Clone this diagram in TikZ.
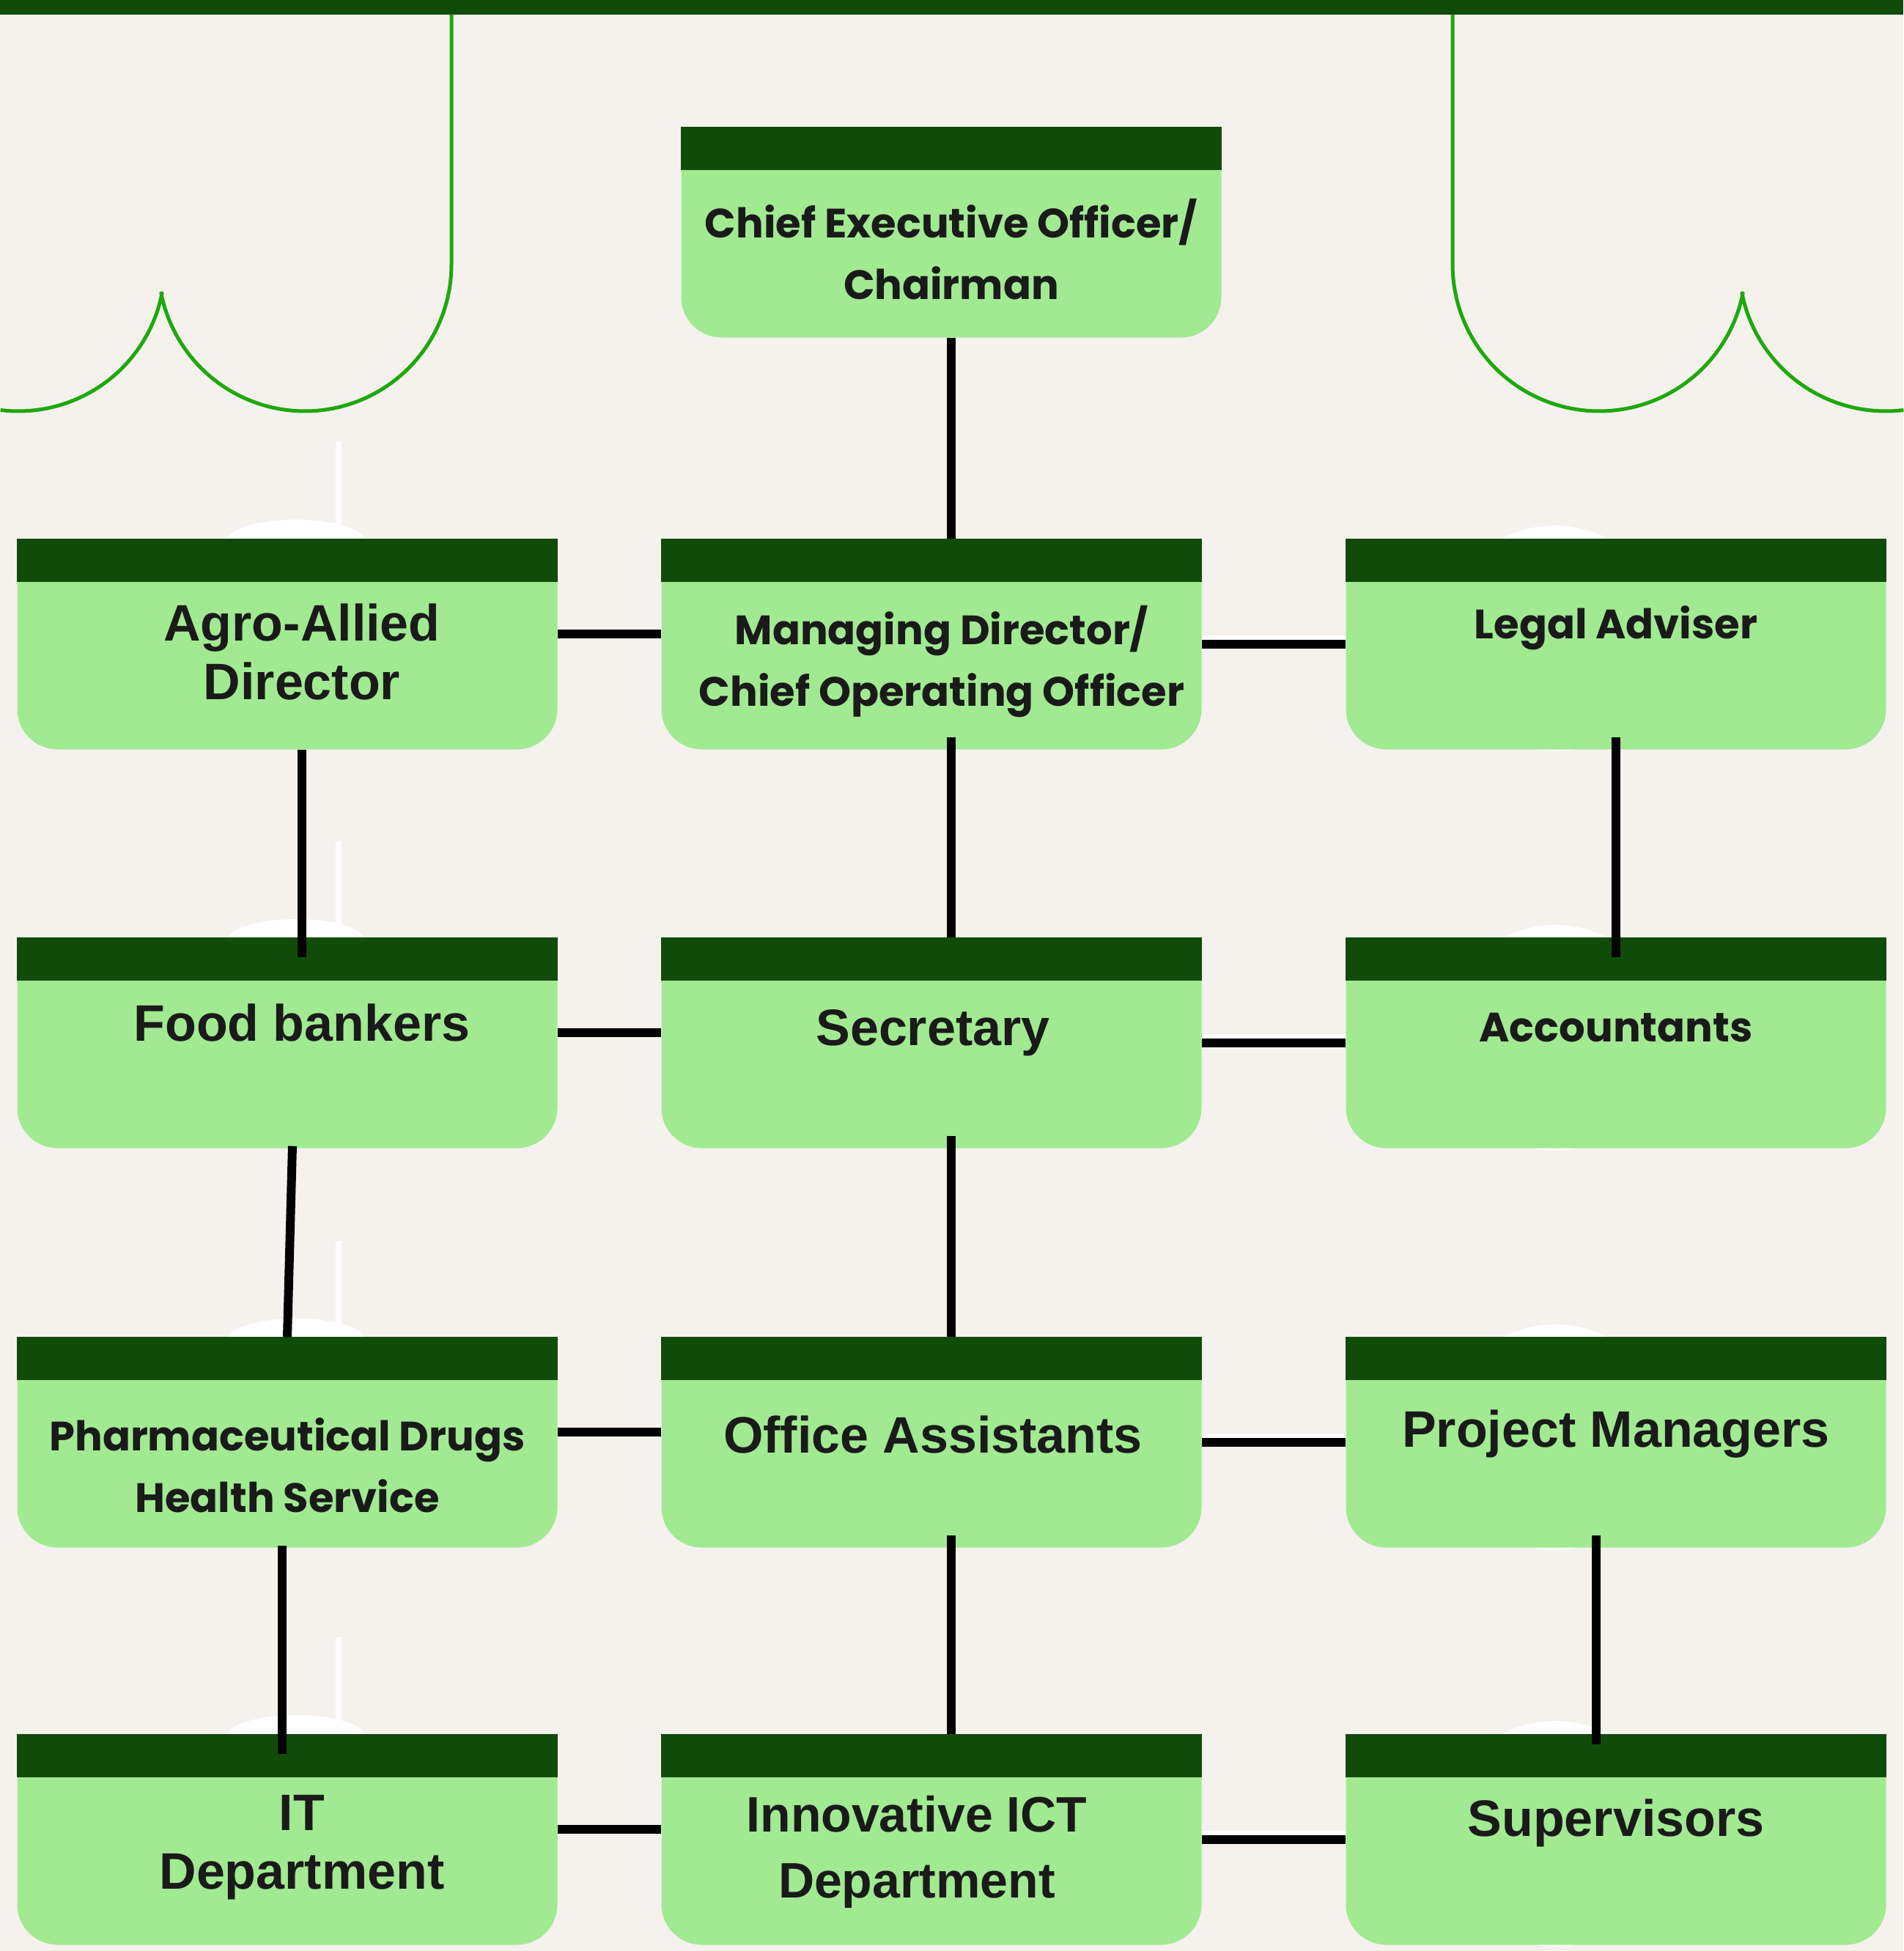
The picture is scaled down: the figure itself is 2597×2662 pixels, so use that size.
\documentclass[tikz,border=0pt]{standalone}
\usepackage{fontspec}
\setmainfont{Poppins}
\newfontfamily\grotesk{Liberation Sans}
\usetikzlibrary{positioning}

\definecolor{paper}{HTML}{F5F1ED}
\definecolor{pine}{HTML}{114B0A}
\definecolor{leaf}{HTML}{A1EA91}
\definecolor{sprout}{HTML}{1EA80F}
\definecolor{ink}{HTML}{1A1A1A}

\tikzset{
    post/.style = {rectangle, rounded corners = 55pt, fill = leaf,
        minimum width = 737pt, minimum height = 287pt, inner sep = 0pt},
    poptext/.style = {font = \fontsize{56}{84}\selectfont\bfseries, text = ink, align = center, inner sep = 0pt},
    grottext/.style = {font = \fontsize{70}{80}\selectfont\grotesk\bfseries, text = ink, align = center, inner sep = 0pt},
    link/.style = {line width = 12pt, black},
    ghostline/.style = {line width = 9pt, white},
    hanger/.style = {line width = 5pt, sprout, line join = round}
}

\begin{document}
\begin{tikzpicture}[x = 1pt, y = -1pt]
    \useasboundingbox (0,0) rectangle (2597,2662);
    \fill[paper] (0,0) rectangle (2597,2662);
    \fill[pine] (0,0) rectangle (2597,20);

    % scalloped hangers
    \draw[hanger] (616,20) -- (616,361)
        -- plot[domain = 0:168.75, samples = 80] ({416+200*cos(\x)},{361+200*sin(\x)})
        -- plot[domain = 11.25:97, samples = 60] ({25+200*cos(\x)},{361+200*sin(\x)});
    \draw[hanger] (1982,20) -- (1982,361)
        -- plot[domain = 180:11.25, samples = 80] ({2182+200*cos(\x)},{361+200*sin(\x)})
        -- plot[domain = 168.75:83, samples = 60] ({2573+200*cos(\x)},{361+200*sin(\x)});

    % faint shapes behind the side columns
    \foreach \top in {735,1280,1825,2366} {
        \draw[line width = 8pt, white] (462,\top-132) -- (462,\top);
        \fill[white] (404,\top+4) ellipse [x radius = 95, y radius = 30];
        \fill[white] (2122,\top+136) circle (154);
    }

    \node[post] (ceo) at (1298,317) {};
    \node[post] (agro) at (392,879) {};
    \node[post] (md) at (1271,879) {};
    \node[post] (legal) at (2205,879) {};
    \node[post] (food) at (392,1423) {};
    \node[post] (sec) at (1271,1423) {};
    \node[post] (acct) at (2205,1423) {};
    \node[post] (pharma) at (392,1968) {};
    \node[post] (office) at (1271,1968) {};
    \node[post] (proj) at (2205,1968) {};
    \node[post] (it) at (392,2510) {};
    \node[post] (ict) at (1271,2510) {};
    \node[post] (sup) at (2205,2510) {};

    % dark header strip on every box
    \foreach \n in {ceo,agro,md,legal,food,sec,acct,pharma,office,proj,it,ict,sup}
        \fill[pine] (\n.north west) rectangle ([yshift = -59pt]\n.north east);

    \node[poptext] (ceolbl) at (1298,340) {Chief Executive Officer/\\Chairman};
    \node[poptext] (mdlbl) at (1285,903) {Managing Director/\\Chief Operating Officer};
    \node[poptext] (legallbl) at (2205,857) {Legal Adviser};
    \node[grottext] (agrolbl) at (412,889) {Agro-Allied\\Director};
    \node[grottext] (foodlbl) at (412,1395) {Food bankers};
    \node[grottext] (seclbl) at (1273,1409) {Secretary};
    \node[poptext] (acctlbl) at (2205,1402) {Accountants};
    \node[poptext] (pharmalbl) at (392,1999) {Pharmaceutical Drugs\\Health Service};
    \node[grottext] (officelbl) at (1273,1957) {Office Assistants};
    \node[grottext] (projlbl) at (2205,1957) {Project Managers};
    \node[grottext] (itlbl) at (412,2521) {IT\\Department};
    \node[grottext, font = \fontsize{68}{90}\selectfont\grotesk\bfseries] (ictlbl) at (1251,2527) {Innovative ICT\\Department};
    \node[grottext] (suplbl) at (2205,2487) {Supervisors};

    \coordinate (spine) at (1298,0);

    % centre line
    \draw[link] (ceo.south) -- (ceo.south |- md.north);
    \draw[link] ([yshift = 17pt]md.south -| spine) -- (sec.north -| spine);
    \draw[link] ([yshift = 17pt]sec.south -| spine) -- (office.north -| spine);
    \draw[link] ([yshift = 17pt]office.south -| spine) -- (ict.north -| spine);

    % side columns
    \draw[link] ([xshift = 20pt]agro.south) -- ([xshift = 20pt, yshift = -27pt]food.north);
    \draw[link] ([xshift = 7pt, yshift = 3pt]food.south) -- (pharma.north);
    \draw[link] ([xshift = -7pt, yshift = 3pt]pharma.south) -- ([xshift = -7pt, yshift = -27pt]it.north);
    \draw[link] ([yshift = 17pt]legal.south) -- ([yshift = -27pt]acct.north);
    \draw[link] ([xshift = -27pt, yshift = 17pt]proj.south) -- ([xshift = -27pt, yshift = -14pt]sup.north);

    % rows
    \draw[link] ([yshift = 14pt]agro.east) -- ([yshift = 14pt]md.west);
    \draw[link] ([yshift = 14pt]food.east) -- ([yshift = 14pt]sec.west);
    \draw[link] ([yshift = 14pt]pharma.east) -- ([yshift = 14pt]office.west);
    \draw[link] ([yshift = 14pt]it.east) -- ([yshift = 14pt]ict.west);
    \foreach \a/\b in {md/legal, sec/acct, office/proj, ict/sup} {
        \draw[ghostline] ([yshift = 8pt]\a.east) -- ([yshift = 8pt]\b.west);
        \draw[link] (\a.east) -- (\b.west);
    }
\end{tikzpicture}
\end{document}
